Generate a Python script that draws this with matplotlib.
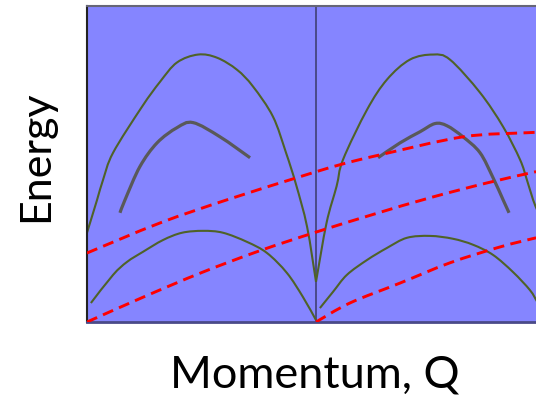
import matplotlib
matplotlib.use("Agg")
import matplotlib.pyplot as plt
import numpy as np
from matplotlib.patches import PathPatch
from matplotlib.path import Path

# dispersion branches, momentum Q (zone boundary at Q=1) and energy (arb. units)
upper_left_q = [0.0, 0.044, 0.070, 0.114, 0.240, 0.319, 0.393, 0.485, 0.568, 0.655, 0.725, 0.812, 0.869, 0.913, 0.961, 1.0]
upper_left_e = [2.82, 3.86, 4.49, 5.35, 6.80, 7.59, 8.20, 8.45, 8.35, 7.97, 7.44, 6.49, 5.35, 4.34, 3.01, 1.27]
upper_right_q = [1.0, 1.046, 1.090, 1.118, 1.223, 1.310, 1.410, 1.511, 1.585, 1.716, 1.817, 1.891, 1.921, 1.948, 1.965]
upper_right_e = [1.27, 3.13, 4.29, 5.13, 6.71, 7.66, 8.29, 8.45, 8.29, 7.25, 6.17, 5.13, 4.49, 3.86, 3.55]

middle_left_q = [0.144, 0.166, 0.231, 0.306, 0.393, 0.463, 0.581, 0.712]
middle_left_e = [3.45, 3.86, 4.91, 5.66, 6.14, 6.30, 5.85, 5.19]
middle_right_q = [1.271, 1.367, 1.454, 1.520, 1.572, 1.642, 1.716, 1.773, 1.817, 1.843]
middle_right_e = [5.19, 5.66, 6.01, 6.27, 6.20, 5.85, 5.35, 4.56, 3.86, 3.45]

lower_left_q = [0.017, 0.114, 0.175, 0.245, 0.332, 0.415, 0.507, 0.594, 0.699, 0.786, 0.873, 0.943, 1.0]
lower_left_e = [0.60, 1.49, 1.90, 2.22, 2.59, 2.82, 2.88, 2.82, 2.53, 2.18, 1.55, 0.79, 0.06]
lower_right_q = [1.017, 1.074, 1.135, 1.223, 1.310, 1.397, 1.498, 1.598, 1.686, 1.773, 1.860, 1.934, 1.965]
lower_right_e = [0.44, 0.95, 1.49, 1.96, 2.34, 2.66, 2.72, 2.63, 2.44, 2.12, 1.58, 1.01, 0.65]

# dashed modes
mode_a_q = [0.0, 0.319, 0.611, 0.930, 1.105, 1.279, 1.642, 1.921, 2.0]
mode_a_e = [2.18, 3.13, 3.86, 4.59, 4.97, 5.28, 5.85, 5.98, 6.0]
mode_b_q = [0.0, 0.25, 0.5, 0.75, 1.0, 1.25, 1.5, 1.75, 1.961]
mode_b_e = [0.0, 0.80, 1.56, 2.24, 2.84, 3.40, 3.93, 4.40, 4.75]
mode_c_q = [1.0, 1.148, 1.367, 1.585, 1.803, 1.961]
mode_c_e = [0.0, 0.60, 1.23, 1.87, 2.37, 2.66]


def smooth_path(q, e):
    # Catmull-Rom through the points, written as cubic Bezier segments
    p = np.column_stack([q, e])
    pad = np.vstack([p[0], p, p[-1]])
    verts = [p[0]]
    codes = [Path.MOVETO]
    for i in range(len(p) - 1):
        p0, p1, p2, p3 = pad[i], pad[i + 1], pad[i + 2], pad[i + 3]
        verts += [p1 + (p2 - p0) / 6, p2 - (p3 - p1) / 6, p2]
        codes += [Path.CURVE4] * 3
    return Path(verts, codes)


def draw_curve(ax, q, e, **kw):
    ax.add_patch(PathPatch(smooth_path(q, e), fill=False, capstyle="butt", **kw))


fig = plt.figure(figsize=(5.36, 3.98), dpi=100)
ax = fig.add_axes([87 / 536, 1 - 322 / 398, 458 / 536, 316.5 / 398])
ax.set_facecolor("#8585ff")
ax.set_xlim(0, 2)
ax.set_ylim(0, 10)
ax.set_xticks([])
ax.set_yticks([])
ax.spines["left"].set_color("#222222")
ax.spines["top"].set_color("#666677")
ax.spines["bottom"].set_color("#4a4a88")
ax.spines["right"].set_visible(False)
for s in ax.spines.values():
    s.set_linewidth(1.5)
ax.spines["bottom"].set_linewidth(2.0)

ax.axvline(1.0, color="#4a4a88", lw=1.4, zorder=1)

green = "#4f6228"
for q, e in [(upper_left_q, upper_left_e), (upper_right_q, upper_right_e),
             (lower_left_q, lower_left_e), (lower_right_q, lower_right_e)]:
    draw_curve(ax, q, e, edgecolor=green, lw=1.5, zorder=2)
for q, e in [(middle_left_q, middle_left_e), (middle_right_q, middle_right_e)]:
    draw_curve(ax, q, e, edgecolor="#595959", lw=2.3, zorder=2)
for q, e in [(mode_a_q, mode_a_e), (mode_b_q, mode_b_e), (mode_c_q, mode_c_e)]:
    draw_curve(ax, q, e, edgecolor="#ff0000", lw=2.1, ls=(0, (3.8, 2.2)), zorder=3)

fig.text(36 / 536, 1 - 156 / 398, "Energy", rotation=90, ha="center", va="center",
         fontsize=31, family="Lato")
fig.text(315 / 536, 1 - 375 / 398, "Momentum, Q", ha="center", va="center",
         fontsize=32.5, family="Lato")

fig.savefig("out.png", dpi=100)
